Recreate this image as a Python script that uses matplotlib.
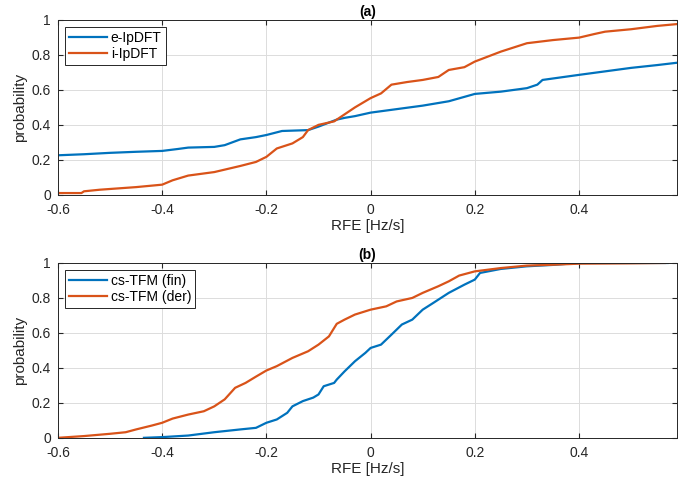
import matplotlib.pyplot as plt
import numpy as np

BLUE = "#0072BD"
ORANGE = "#D95319"

a_e_x = [-0.6, -0.55, -0.5, -0.45, -0.4, -0.37, -0.35, -0.3, -0.28, -0.25, -0.22,
         -0.2, -0.17, -0.12, -0.1, -0.08, -0.065, -0.05, -0.03, 0.0, 0.05, 0.1,
         0.15, 0.2, 0.25, 0.3, 0.32, 0.33, 0.4, 0.45, 0.5, 0.55, 0.59]
a_e_p = [0.226, 0.232, 0.24, 0.246, 0.251, 0.262, 0.27, 0.274, 0.284, 0.317, 0.33,
         0.342, 0.365, 0.37, 0.39, 0.413, 0.43, 0.44, 0.45, 0.47, 0.49, 0.51,
         0.535, 0.577, 0.59, 0.61, 0.63, 0.657, 0.686, 0.706, 0.726, 0.742, 0.756]
a_i_x = [-0.6, -0.555, -0.55, -0.52, -0.45, -0.4, -0.38, -0.35, -0.3, -0.25, -0.22,
         -0.2, -0.18, -0.15, -0.13, -0.12, -0.1, -0.07, -0.05, -0.03, 0.0, 0.02,
         0.04, 0.07, 0.1, 0.13, 0.15, 0.18, 0.2, 0.25, 0.3, 0.35, 0.4, 0.43, 0.45,
         0.5, 0.55, 0.59]
a_i_p = [0.01, 0.01, 0.02, 0.029, 0.044, 0.058, 0.083, 0.11, 0.13, 0.165, 0.188,
         0.217, 0.265, 0.294, 0.33, 0.37, 0.40, 0.42, 0.46, 0.5, 0.553, 0.58,
         0.63, 0.645, 0.657, 0.674, 0.714, 0.73, 0.762, 0.819, 0.867, 0.885, 0.899,
         0.92, 0.933, 0.947, 0.966, 0.977]

# panel (b)
b_fin_x = [-0.435, -0.4, -0.35, -0.3, -0.25, -0.22, -0.2, -0.18, -0.16, -0.15,
           -0.13, -0.11, -0.1, -0.09, -0.07, -0.065, -0.05, -0.03, -0.01, 0.0,
           0.02, 0.04, 0.06, 0.08, 0.1, 0.12, 0.15, 0.18, 0.2, 0.21, 0.25, 0.3,
           0.35, 0.38, 0.4, 0.57]
b_fin_p = [0.0, 0.004, 0.013, 0.032, 0.048, 0.057, 0.086, 0.105, 0.143, 0.18,
           0.21, 0.23, 0.248, 0.295, 0.314, 0.333, 0.38, 0.438, 0.486, 0.514,
           0.533, 0.59, 0.648, 0.676, 0.733, 0.771, 0.829, 0.876, 0.905, 0.943,
           0.966, 0.981, 0.989, 0.996, 1.0, 1.0]
b_der_x = [-0.6, -0.55, -0.5, -0.47, -0.45, -0.42, -0.4, -0.38, -0.35, -0.32,
           -0.3, -0.28, -0.26, -0.24, -0.22, -0.2, -0.18, -0.15, -0.12, -0.1,
           -0.08, -0.065, -0.05, -0.03, 0.0, 0.03, 0.05, 0.08, 0.1, 0.13, 0.15,
           0.17, 0.2, 0.25, 0.3, 0.35, 0.4, 0.5, 0.565]
b_der_p = [0.0, 0.01, 0.023, 0.032, 0.048, 0.07, 0.086, 0.11, 0.133, 0.152,
           0.18, 0.22, 0.286, 0.314, 0.35, 0.385, 0.41, 0.457, 0.495, 0.533,
           0.58, 0.652, 0.676, 0.705, 0.733, 0.752, 0.78, 0.80, 0.829, 0.867, 0.895,
           0.928, 0.952, 0.971, 0.985, 0.99, 0.996, 0.998, 1.0]

xticks = [-0.6, -0.4, -0.2, 0, 0.2, 0.4]
xticklabels = ["-0.6", "-0.4", "-0.2", "0", "0.2", "0.4"]
yticks = [0, 0.2, 0.4, 0.6, 0.8, 1]
yticklabels = ["0", "0.2", "0.4", "0.6", "0.8", "1"]

plt.rcParams["font.family"] = ["Liberation Sans", "DejaVu Sans"]
plt.rcParams["font.size"] = 10

fig = plt.figure(figsize=(6.78, 4.87), dpi=100)
ax1 = fig.add_axes([0.0855, 0.600, 0.913, 0.359])
ax2 = fig.add_axes([0.0855, 0.101, 0.913, 0.359])

panels = [
    (ax1, "(a)", [(a_e_x, a_e_p, "e-IpDFT", BLUE), (a_i_x, a_i_p, "i-IpDFT", ORANGE)]),
    (ax2, "(b)", [(b_fin_x, b_fin_p, "cs-TFM (fin)", BLUE),
                  (b_der_x, b_der_p, "cs-TFM (der)", ORANGE)]),
]

for ax, title, series in panels:
    for x, p, label, colour in series:
        ax.plot(x, p, color=colour, lw=1.6, label=label)
    ax.set_xlim(-0.6, 0.588)
    ax.set_ylim(0, 1)
    ax.set_xticks(xticks, xticklabels)
    ax.set_yticks(yticks, yticklabels)
    ax.grid(True, color="#dcdcdc", lw=0.7)
    ax.set_axisbelow(True)
    ax.tick_params(direction="in", top=True, right=True, length=3.5,
                   colors="#262626", labelsize=10)
    ax.tick_params(axis="x", pad=6)
    ax.tick_params(axis="y", pad=5)
    for s in ax.spines.values():
        s.set_color("#262626")
        s.set_linewidth(0.7)
    ax.set_xlabel("RFE [Hz/s]", fontsize=11, color="#262626", labelpad=1)
    ax.set_ylabel("probability", fontsize=11, color="#262626", labelpad=3)
    ax.set_title(title, fontsize=10, fontweight="bold", pad=3)
    leg = ax.legend(loc="upper left", fontsize=10, fancybox=False, framealpha=1,
                    edgecolor="#262626", borderaxespad=0.5, handlelength=2.7,
                    handletextpad=0.3, borderpad=0.3, labelspacing=0.15)
    leg.get_frame().set_linewidth(0.7)

fig.savefig("out.png", dpi=100)
